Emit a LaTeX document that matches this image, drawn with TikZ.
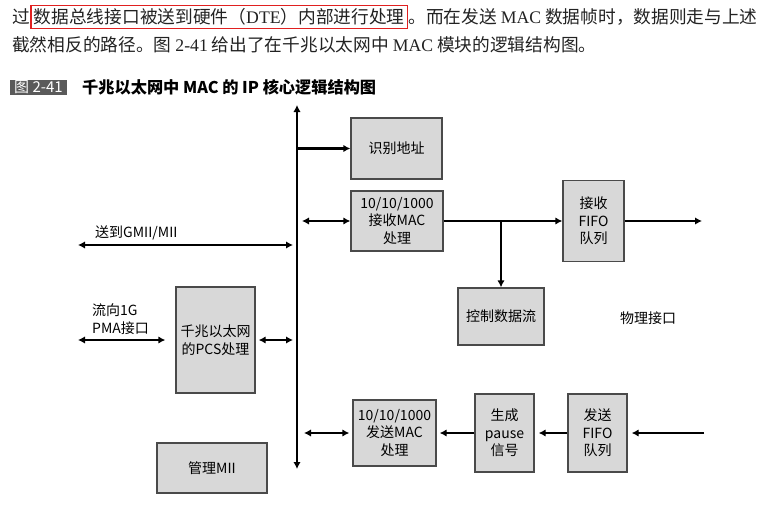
\documentclass[tikz,border=0pt]{standalone}
\usepackage{fontspec}
\usepackage{tikz}
\usetikzlibrary{positioning, arrows.meta}
\newfontfamily\cjk{Noto Sans CJK SC}
\newfontfamily\serifword{Liberation Serif}
\newcommand{\lat}[1]{{\serifword #1}}
\definecolor{boxfill}{HTML}{D8D8D8}
\definecolor{boxline}{HTML}{4A4A4A}
\definecolor{captionfill}{HTML}{5A5A5A}
\definecolor{hilite}{HTML}{E02020}
\definecolor{bodyink}{HTML}{222222}
\tikzset{
	graybox/.style={draw=boxline, fill=boxfill, line width=1.4pt, align=center, inner sep=0pt,
		font=\cjk\fontsize{14}{17.5}\selectfont}
}
\tikzset{
	labeltext/.style={font=\cjk\fontsize{14}{17.5}\selectfont, align=left, inner sep=0pt}
}
\tikzset{
	bodytext/.style={font=\cjk\fontsize{17.7}{22}\selectfont, text=bodyink, inner sep=0pt, anchor=west}
}
\tikzset{
	link/.style={line width=2.5pt, -{Latex[length=7pt,width=7.5pt]}},
	dlink/.style={line width=2.5pt, {Latex[length=7pt,width=7.5pt]}-{Latex[length=7pt,width=7.5pt]}}
}

\begin{document}
\begin{tikzpicture}[x=1pt, y=-1pt]
      \useasboundingbox (0,0) rectangle (771,522);
      % text above the figure
      \node[bodytext] (line1a) at (12,17) {过};
      \node[bodytext, draw=hilite, line width=1.5pt, inner sep=3pt, right=0pt of line1a] (line1b)
        {数据总线接口被送到硬件（\lat{DTE}）内部进行处理};
      \node[bodytext, right=0pt of line1b] (line1c) {。而在发送 \lat{MAC} 数据帧时，数据则走与上述};
      \node[bodytext] (line2) at (12,45) {截然相反的路径。图 \lat{2-41} 给出了在千兆以太网中 \lat{MAC} 模块的逻辑结构图。};
      % caption
      \node[fill=captionfill, text=white, font=\cjk\fontsize{15}{16}\selectfont,
        minimum width=57pt, minimum height=15pt, inner sep=0pt] (fignum) at (38.5,87.5) {图 2-41};
      \node[font=\cjk\bfseries\fontsize{16.2}{18}\selectfont, anchor=west, inner sep=0pt] (caption)
        at (82,87.5) {千兆以太网中 MAC 的 IP 核心逻辑结构图};
      % bus
      \coordinate (bustop) at (297,105);
      \coordinate (busbot) at (297,469);
      \draw[dlink] (busbot) -- (bustop);
      % receive side
      \node[graybox, minimum width=91pt, minimum height=61pt] (addr) at (396.5,148.5) {识别地址};
      \node[graybox, minimum width=92pt, minimum height=60pt] (rxmac) at (397,221) {10/10/1000\\接收MAC\\处理};
      \node[graybox, minimum width=61pt, minimum height=81pt] (rxfifo) at (593.5,221) {接收\\FIFO\\队列};
      \node[graybox, minimum width=86pt, minimum height=57pt] (ctrl) at (501,316.5) {控制数据流};
      \coordinate (rxout) at (702,221);
      \draw[link] (addr.west -| bustop) -- (addr.west);
      \draw[dlink, shorten <=5pt] (rxmac.west -| bustop) -- (rxmac.west);
      \draw[link] (rxmac) -- (rxfifo);
      \draw[link] (rxmac.east -| ctrl.north) -- (ctrl.north);
      \draw[link] (rxfifo) -- (rxout);
      \node[labeltext] (phy) at (648,318) {物理接口};
      % GMII and PCS
      \coordinate (gmii) at (78,245);
      \draw[dlink, shorten >=4pt] (gmii) -- (gmii -| bustop);
      \node[labeltext, anchor=west] (gmiilabel) at (95,233) {送到GMII/MII};
      \node[graybox, minimum width=79pt, minimum height=106pt] (pcs) at (215.5,340) {千兆以太网\\的PCS处理};
      \coordinate (pma) at (78,340);
      \draw[dlink, shorten >=10pt] (pma) -- (pcs.west);
      \draw[dlink, shorten <=3pt, shorten >=4pt] (pcs.east) -- (pcs.east -| bustop);
      \node[labeltext, anchor=west] (pmalabel) at (92,319) {流向1G\\PMA接口};
      \node[graybox, minimum width=110pt, minimum height=50pt] (mii) at (212,468) {管理MII};
      % transmit side
      \node[graybox, minimum width=83pt, minimum height=66pt] (txmac) at (394.5,433) {10/10/1000\\发送MAC\\处理};
      \node[graybox, minimum width=59pt, minimum height=78pt] (pause) at (504.5,433) {生成\\pause\\信号};
      \node[graybox, minimum width=59pt, minimum height=78pt] (txfifo) at (597.5,433) {发送\\FIFO\\队列};
      \coordinate (txin) at (704,433);
      \draw[dlink, shorten <=7pt, shorten >=3pt] (txmac.west -| bustop) -- (txmac.west);
      \draw[link, shorten >=3pt] (pause) -- (txmac);
      \draw[link, shorten >=4pt] (txfifo) -- (pause);
      \draw[link, shorten >=4pt] (txin) -- (txfifo);
\end{tikzpicture}
\end{document}
